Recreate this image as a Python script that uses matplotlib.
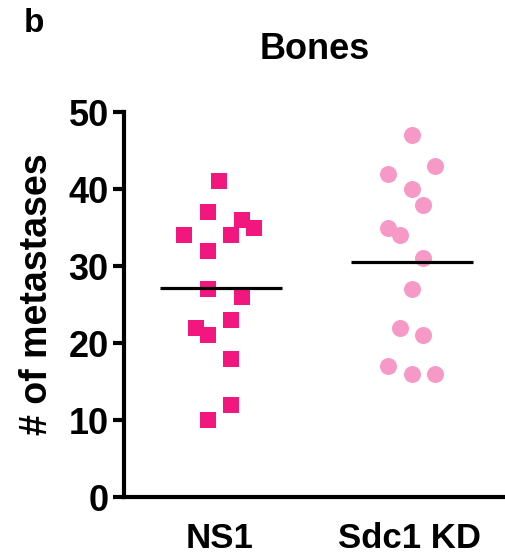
import matplotlib
matplotlib.use('Agg')
import matplotlib.pyplot as plt
import numpy as np

plt.rcParams['font.family'] = ['Liberation Sans', 'DejaVu Sans']
plt.rcParams['font.weight'] = 'bold'
plt.rcParams['axes.labelweight'] = 'bold'
plt.rcParams['axes.titleweight'] = 'bold'

groups = ['NS1', 'Sdc1 KD']
ns1_values = [41, 37, 34, 34, 36, 35, 32, 27, 26, 23, 22, 21, 18, 12, 10]
ns1_jitter = [0, -1, -3, 1, 2, 3, -1, -1, 2, 1, -2, -1, 1, 1, -1]
kd_values = [47, 43, 42, 40, 38, 35, 34, 31, 27, 22, 21, 17, 16, 16]
kd_jitter = [0, 2, -2, 0, 1, -2, -1, 1, 0, -1, 1, -2, 0, 2]
centre_lines = [27.1, 30.6]
y_ticks = [0, 10, 20, 30, 40, 50]

fig = plt.figure(figsize=(5.05, 5.58), dpi=100)
ax = fig.add_axes([0.2455, 0.109, 0.7545, 0.69])

step = 0.061
ax.scatter(0 + np.array(ns1_jitter) * step, ns1_values, marker='s', s=135,
           color='#F2177F', linewidths=0, zorder=3, clip_on=False)
ax.scatter(1.01 + np.array(kd_jitter) * step, kd_values, marker='o', s=150,
           color='#F799C6', linewidths=0, zorder=3, clip_on=False)

for i, v in enumerate(centre_lines):
    ax.plot([i - 0.31, i + 0.33], [v, v], color='black', lw=2.3, zorder=4,
            solid_capstyle='butt')

ax.set_xlim(-0.5, 1.5)
ax.set_ylim(0, 50)
ax.set_yticks(y_ticks)
ax.set_xticks([0, 1])
ax.set_xticklabels(groups)
for s in ['top', 'right']:
    ax.spines[s].set_visible(False)
for s in ['left', 'bottom']:
    ax.spines[s].set_linewidth(3)
ax.tick_params(axis='y', length=8, width=3, pad=3, labelsize=26)
ax.tick_params(axis='x', length=0, pad=18, labelsize=25)
ax.set_ylabel('# of metastases', fontsize=27)
ax.yaxis.set_label_coords(-0.18, 0.527)
ax.set_title('Bones', fontsize=26, pad=38)
fig.text(0.048, 0.985, 'b', fontsize=24, fontweight='bold', va='top')

fig.savefig('out.png', dpi=100)
